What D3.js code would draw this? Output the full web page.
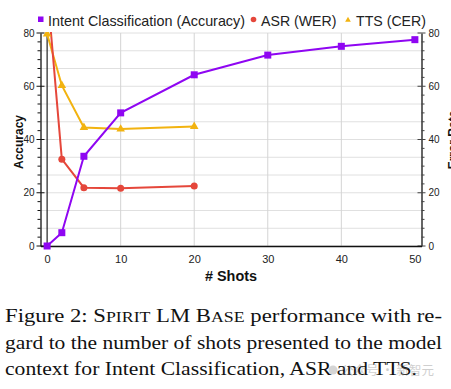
<!DOCTYPE html>
<html><head><meta charset="utf-8">
<script src="https://cdn.jsdelivr.net/npm/d3@7"></script>
<style>
html,body{margin:0;padding:0;background:#fff;}
svg{display:block;}
</style></head>
<body>
<svg id="c" width="451" height="389"></svg>
<script>
// ---- data ----
const shots = [0, 2, 5, 10, 20, 30, 40, 50];
const intentAcc = [0, 5, 33.7, 50, 64.3, 71.7, 75, 77.5];
const asrShots = [0, 2, 5, 10, 20];
const asrWER = [97, 32.6, 21.9, 21.7, 22.5];
const ttsShots = [0, 2, 5, 10, 20];
const ttsCER = [79.6, 60.3, 44.5, 43.9, 44.9];
const xTicks = [0, 10, 20, 30, 40, 50];
const yTicks = [0, 20, 40, 60, 80];
const seriesNames = ["Intent Classification (Accuracy)", "ASR (WER)", "TTS (CER)"];

const svg = d3.select("#c");
const sans = "'Liberation Sans', Arial, sans-serif";
const serif = "'Liberation Serif', 'Times New Roman', serif";

const x = d3.scaleLinear().domain([-0.9, 50.9]).range([40.5, 421.5]);
const y = d3.scaleLinear().domain([0, 80]).range([246, 33]);
const yR = d3.scaleLinear().domain([0, 80]).range([246, 33]);

const colors = ["#8f06f2", "#e5473b", "#f2b310"];

// gridlines
const grid = svg.append("g");
d3.range(0, 80.01, 20/3).forEach(v => {
  grid.append("line").attr("x1", x(-0.9)).attr("x2", x(50.9))
    .attr("y1", y(v)).attr("y2", y(v)).attr("stroke", "#e0e0e0").attr("stroke-width", 1);
});
[10, 20, 30, 40].forEach(v => {
  grid.append("line").attr("x1", x(v)).attr("x2", x(v))
    .attr("y1", y(0)).attr("y2", y(80)).attr("stroke", "#d4d4d4").attr("stroke-width", 1);
});
grid.append("line").attr("x1", x(0)).attr("x2", x(0))
  .attr("y1", y(0)).attr("y2", y(80)).attr("stroke", "#222").attr("stroke-width", 1.2);

// left axis
const leftAx = svg.append("g").attr("transform", `translate(${x(-0.9)},0)`)
  .call(d3.axisLeft(y).tickValues(yTicks).tickSize(0).tickPadding(6));
leftAx.select(".domain").attr("stroke", "#111").attr("stroke-width", 1.3);
leftAx.selectAll("text").attr("font-family", sans).attr("font-size", 10).attr("fill", "#222");
d3.range(0, 80.01, 10/3).forEach(v => {
  const major = Math.abs(v % 20) < 0.01 || Math.abs(v % 20 - 20) < 0.01;
  svg.append("line").attr("x1", x(-0.9) - (major ? 4 : 3)).attr("x2", x(-0.9) + (major ? 4 : 0))
    .attr("y1", y(v)).attr("y2", y(v)).attr("stroke", "#111").attr("stroke-width", 1);
});

// right axis
const rightAx = svg.append("g").attr("transform", `translate(${x(50.9)},0)`)
  .call(d3.axisRight(yR).tickValues(yTicks).tickSize(0).tickPadding(7));
rightAx.select(".domain").attr("stroke", "#666").attr("stroke-width", 2);
rightAx.selectAll("text").attr("font-family", sans).attr("font-size", 10).attr("fill", "#222");
d3.range(0, 80.01, 10/3).forEach(v => {
  const major = Math.abs(v % 20) < 0.01 || Math.abs(v % 20 - 20) < 0.01;
  svg.append("line").attr("x1", x(50.9) - (major ? 4 : 0)).attr("x2", x(50.9) + (major ? 4 : 3))
    .attr("y1", yR(v)).attr("y2", yR(v)).attr("stroke", "#444").attr("stroke-width", 1);
});

// x axis
const xAx = svg.append("g").attr("transform", `translate(0,${y(0)})`)
  .call(d3.axisBottom(x).tickValues(xTicks).tickSize(0).tickPadding(9));
xAx.select(".domain").attr("stroke", "#111").attr("stroke-width", 1.3);
xAx.selectAll("text").attr("font-family", sans).attr("font-size", 11).attr("fill", "#222");

// axis titles
svg.append("text").attr("transform", "translate(22.5,142) rotate(-90)")
  .attr("text-anchor", "middle").attr("font-family", sans).attr("font-weight", "bold")
  .attr("font-size", 12).attr("fill", "#111").text("Accuracy");
svg.append("text").attr("transform", "translate(457,140) rotate(-90)")
  .attr("text-anchor", "middle").attr("font-family", sans).attr("font-weight", "bold")
  .attr("font-size", 12).attr("fill", "#111").text("Error Rate");
svg.append("text").attr("x", 205).attr("y", 281)
  .attr("font-family", sans).attr("font-weight", "bold")
  .attr("font-size", 14).attr("textLength", 52).attr("lengthAdjust", "spacingAndGlyphs")
  .attr("fill", "#111").text("# Shots");

// clip
svg.append("clipPath").attr("id", "plotclip").append("rect")
  .attr("x", x(-0.9)).attr("y", y(80) - 1).attr("width", x(50.9) - x(-0.9)).attr("height", y(0) - y(80) + 8);
const plot = svg.append("g").attr("clip-path", "url(#plotclip)");

const line = d3.line().x(d => x(d[0])).y(d => y(d[1]));
const intentData = shots.map((s, i) => [s, intentAcc[i]]);
const asrData = asrShots.map((s, i) => [s, asrWER[i]]);
const ttsData = ttsShots.map((s, i) => [s, ttsCER[i]]);

plot.append("path").datum(ttsData).attr("d", line).attr("fill", "none")
  .attr("stroke", colors[2]).attr("stroke-width", 2);
plot.append("path").datum(asrData).attr("d", line).attr("fill", "none")
  .attr("stroke", colors[1]).attr("stroke-width", 2);
plot.append("path").datum(intentData).attr("d", line).attr("fill", "none")
  .attr("stroke", colors[0]).attr("stroke-width", 2);

const tri = d3.symbol().type(d3.symbolTriangle).size(32);
plot.selectAll(".tt").data(ttsData).enter().append("path")
  .attr("d", tri).attr("transform", d => `translate(${x(d[0])},${y(d[1])})`).attr("fill", colors[2]);
plot.selectAll(".as").data(asrData).enter().append("circle")
  .attr("cx", d => x(d[0])).attr("cy", d => y(d[1])).attr("r", 3.5).attr("fill", colors[1]);
plot.selectAll(".ic").data(intentData).enter().append("rect")
  .attr("x", d => x(d[0]) - 3.5).attr("y", d => y(d[1]) - 3.5).attr("width", 7).attr("height", 7).attr("fill", colors[0]);

// legend
const lg = svg.append("g").attr("font-family", sans).attr("font-size", 15).attr("fill", "#222");
lg.append("rect").attr("x", 38).attr("y", 16.5).attr("width", 5.5).attr("height", 5.5).attr("fill", colors[0]);
lg.append("text").attr("x", 48).attr("y", 25.5).attr("textLength", 197)
  .attr("lengthAdjust", "spacingAndGlyphs").text(seriesNames[0]);
lg.append("circle").attr("cx", 253.5).attr("cy", 19.5).attr("r", 2.8).attr("fill", colors[1]);
lg.append("text").attr("x", 261).attr("y", 25.5).attr("textLength", 75.5)
  .attr("lengthAdjust", "spacingAndGlyphs").text(seriesNames[1]);
lg.append("path").attr("d", d3.symbol().type(d3.symbolTriangle).size(14))
  .attr("transform", "translate(348,20)").attr("fill", colors[2]);
lg.append("text").attr("x", 356).attr("y", 25.5).attr("textLength", 70)
  .attr("lengthAdjust", "spacingAndGlyphs").text(seriesNames[2]);

// caption
const cap = svg.append("g").attr("font-family", serif).attr("fill", "#111");
const fs = 18.5, sc = 14.5;
const l1 = cap.append("text").attr("x", 5).attr("y", 322).attr("font-size", fs)
  .attr("textLength", 437).attr("lengthAdjust", "spacingAndGlyphs");
l1.append("tspan").text("Figure 2:  S");
l1.append("tspan").attr("font-size", sc).text("PIRIT");
l1.append("tspan").text(" LM B");
l1.append("tspan").attr("font-size", sc).text("ASE");
l1.append("tspan").text(" performance with re-");
cap.append("text").attr("x", 5).attr("y", 348.5).attr("font-size", fs)
  .attr("textLength", 437).attr("lengthAdjust", "spacingAndGlyphs")
  .text("gard to the number of shots presented to the model");
cap.append("text").attr("x", 5).attr("y", 375).attr("font-size", fs)
  .attr("textLength", 412).attr("lengthAdjust", "spacingAndGlyphs")
  .text("context for Intent Classification, ASR and TTS.");

// watermark
const wm = svg.append("g").attr("opacity", 0.4);
wm.append("circle").attr("cx", 333).attr("cy", 370).attr("r", 4.5).attr("fill", "#999");
wm.append("text").attr("x", 341).attr("y", 375).attr("font-family", "'Noto Sans CJK SC', sans-serif")
  .attr("font-size", 12.5).attr("fill", "#8a8a8a").text("公众号 · 新智元");
</script>
</body></html>
